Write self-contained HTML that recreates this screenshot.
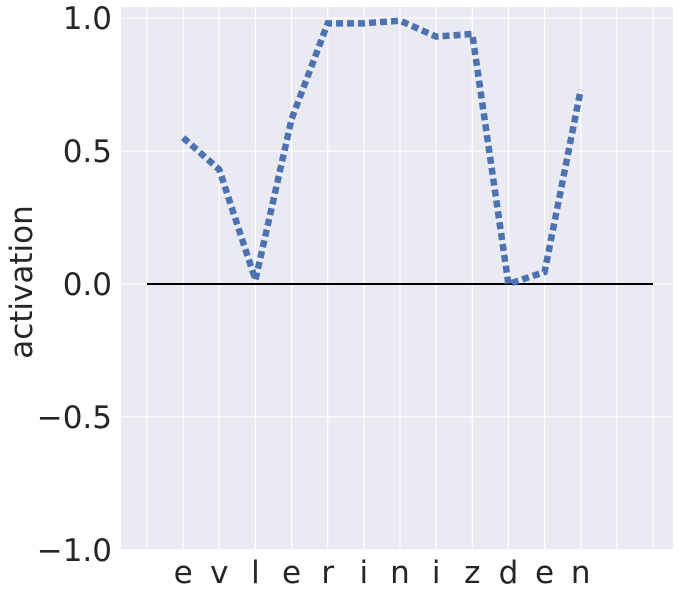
<!DOCTYPE html>
<html><head><meta charset="utf-8"><style>
body{margin:0;background:#fff;}
svg{display:block;font-family:"DejaVu Sans","Liberation Sans",sans-serif;}
</style></head><body>
<svg id="chart" width="685" height="594" viewBox="0 0 685 594">
<rect x="121" y="7" width="552" height="543" fill="#eaeaf2"/>
<g id="grid"></g>
<g id="ticks"></g>
<line id="zero" stroke="#000" stroke-width="2"/>
<path id="series" fill="none" stroke="#4c72b0" stroke-width="6.5" stroke-dasharray="7,4"/>
<text x="32" y="282" font-size="31" text-anchor="middle" transform="rotate(-90 32 282)" fill="#262626">activation</text>
</svg>
<script>
const letters=["e","v","l","e","r","i","n","i","z","d","e","n"];
const values=[0.55,0.43,0.015,0.62,0.98,0.98,0.99,0.93,0.94,0.0,0.045,0.73];
const yTicks=[-1.0,-0.5,0.0,0.5,1.0];
const yTickLabels=["\u22121.0","\u22120.5","0.0","0.5","1.0"];
const ns="http://www.w3.org/2000/svg";
const L=121,R=673,T=7,B=550;
const x=i=>147+i*(506/14);
const y=v=>284-v*266;
const grid=document.getElementById('grid'),ticks=document.getElementById('ticks');
for(let i=0;i<=14;i++){
 const l=document.createElementNS(ns,'line');
 
 
 l.setAttribute('x1',x(i));l.setAttribute('x2',x(i));l.setAttribute('y1',T);l.setAttribute('y2',B);
 l.setAttribute('stroke','#fff');l.setAttribute('stroke-width','1.2');grid.appendChild(l);
}
yTicks.forEach((v,k)=>{
 const l=document.createElementNS(ns,'line');
 
 
 l.setAttribute('x1',L);l.setAttribute('x2',R);l.setAttribute('y1',y(v));l.setAttribute('y2',y(v));
 l.setAttribute('stroke','#fff');l.setAttribute('stroke-width','1.2');grid.appendChild(l);
 const t=document.createElementNS(ns,'text');
 
 
 t.setAttribute('x',112);t.setAttribute('y',y(v)+11);t.setAttribute('text-anchor','end');
 t.setAttribute('font-size','31');t.setAttribute('fill','#262626');t.textContent=yTickLabels[k];ticks.appendChild(t);
});
letters.forEach((c,i)=>{
 const t=document.createElementNS(ns,'text');
 
 
 t.setAttribute('x',x(i+1));t.setAttribute('y',583);t.setAttribute('text-anchor','middle');
 t.setAttribute('font-size','31');t.setAttribute('fill','#262626');t.textContent=c;ticks.appendChild(t);
});
const z=document.getElementById('zero');
z.setAttribute('x1',x(0));z.setAttribute('x2',x(14));z.setAttribute('y1',y(0));z.setAttribute('y2',y(0));
document.getElementById('series').setAttribute('d',values.map((v,i)=>(i?'L':'M')+x(i+1)+','+y(v)).join(' '));
</script>
</body></html>
